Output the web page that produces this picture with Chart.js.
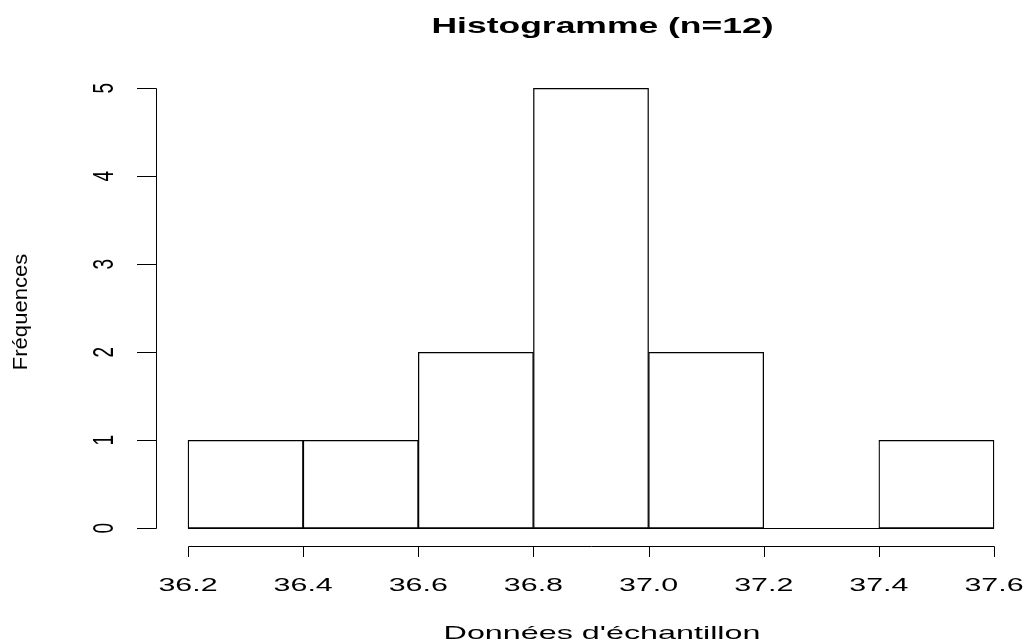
<!DOCTYPE html>
<html>
<head>
<meta charset="utf-8">
<script src="https://cdn.jsdelivr.net/npm/chart.js@4"></script>
<style>
  html, body { margin: 0; padding: 0; background: #fff; }
  canvas { display: block; }
</style>
</head>
<body>
<canvas id="histChart" width="1026" height="641"></canvas>
<script>
// Données de l'histogramme
const titre = 'Histogramme (n=12)';
const titreX = "Données d'échantillon";
const titreY = 'Fréquences';
const bornes = [36.2, 36.4, 36.6, 36.8, 37.0, 37.2, 37.4, 37.6];
const effectifs = [1, 1, 2, 5, 2, 0, 1];
const ticksX = [36.2, 36.4, 36.6, 36.8, 37.0, 37.2, 37.4, 37.6];
const ticksY = [0, 1, 2, 3, 4, 5];

const police = '"Liberation Sans", Arial, sans-serif';

// Texte étiré (l'image d'origine est étirée horizontalement)
function texte(ctx, txt, x, y, font, sx, tourne) {
    ctx.save();
    ctx.font = font;
    ctx.fillStyle = '#000';
    ctx.textAlign = 'center';
    ctx.textBaseline = 'alphabetic';
    ctx.translate(x, y);
    if (tourne) {
        ctx.rotate(-Math.PI / 2);
        ctx.scale(tourne.along, tourne.across);
    } else {
        ctx.scale(sx, 1);
    }
    ctx.fillText(txt, 0, 0);
    ctx.restore();
}

// Axes à la manière de R (détachés de la zone du graphique)
const axesR = {
    id: 'axesR',
    afterDraw(chart) {
        const ctx = chart.ctx;
        const sx = chart.scales.x;
        const sy = chart.scales.y;
        ctx.save();
        ctx.strokeStyle = '#000';
        ctx.lineWidth = 1;

        // ligne de base (classe vide incluse)
        const y0 = Math.round(sy.getPixelForValue(0)) + 0.5;
        ctx.beginPath();
        ctx.moveTo(sx.getPixelForValue(bornes[0]), y0);
        ctx.lineTo(sx.getPixelForValue(bornes[bornes.length - 1]), y0);
        ctx.stroke();

        // axe Y
        const xa = 156.5;
        ctx.beginPath();
        ctx.moveTo(xa, Math.round(sy.getPixelForValue(ticksY[0])) + 0.5);
        ctx.lineTo(xa, Math.round(sy.getPixelForValue(ticksY[ticksY.length - 1])) + 0.5);
        ticksY.forEach(v => {
            const py = Math.round(sy.getPixelForValue(v)) + 0.5;
            ctx.moveTo(xa, py);
            ctx.lineTo(137, py);
        });
        ctx.stroke();
        ticksY.forEach(v => {
            texte(ctx, String(v), 113, sy.getPixelForValue(v), '19px ' + police, 1, { along: 1, across: 1.6 });
        });

        // axe X
        const ya = 546.5;
        ctx.beginPath();
        ctx.moveTo(Math.round(sx.getPixelForValue(ticksX[0])) + 0.5, ya);
        ctx.lineTo(Math.round(sx.getPixelForValue(ticksX[ticksX.length - 1])) + 0.5, ya);
        ticksX.forEach(v => {
            const px = Math.round(sx.getPixelForValue(v)) + 0.5;
            ctx.moveTo(px, ya);
            ctx.lineTo(px, 557);
        });
        ctx.stroke();
        ticksX.forEach(v => {
            texte(ctx, v.toFixed(1), sx.getPixelForValue(v), 590.7, '19px ' + police, 1.6);
        });

        // titres
        texte(ctx, titre, 602.5, 32.7, 'bold 21.5px ' + police, 1.65);
        texte(ctx, titreX, 602, 638.6, '19px ' + police, 1.7);
        texte(ctx, titreY, 27.3, 312, '19.5px ' + police, 1, { along: 1.13, across: 1.05 });
        ctx.restore();
    }
};

function creerHistogramme() {
    const ctx = document.getElementById('histChart').getContext('2d');
    const points = effectifs.map((n, i) => ({ x: (bornes[i] + bornes[i + 1]) / 2, y: n }));
    new Chart(ctx, {
        type: 'bar',
        data: {
            datasets: [{
                data: points,
                backgroundColor: '#ffffff',
                borderColor: '#000000',
                borderWidth: 1.3,
                borderSkipped: false,
                barPercentage: 1,
                categoryPercentage: 1
            }]
        },
        options: {
            responsive: false,
            animation: false,
            layout: { padding: { left: 156, right: 0, top: 70.7, bottom: 95.1 } },
            scales: {
                x: { type: 'linear', display: false, offset: false, min: 36.1444, max: 37.6556 },
                y: { display: false, min: -0.2, max: 5.2 }
            },
            plugins: {
                legend: { display: false },
                title: { display: false },
                tooltip: { enabled: false }
            }
        },
        plugins: [axesR]
    });
}

window.addEventListener('load', creerHistogramme);
</script>
</body>
</html>
